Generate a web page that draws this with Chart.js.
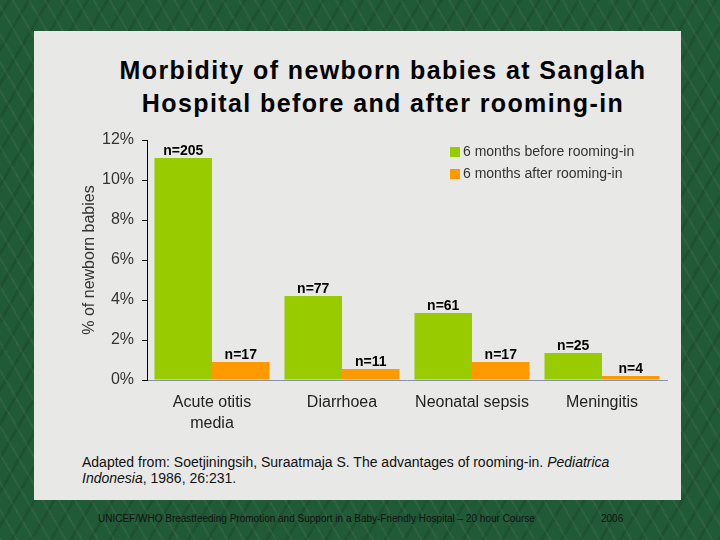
<!DOCTYPE html>
<html>
<head>
<meta charset="utf-8">
<script src="https://cdn.jsdelivr.net/npm/chart.js@4/dist/chart.umd.min.js"></script>
<style>
  html, body { margin:0; padding:0; }
  body { width:720px; height:540px; position:relative; overflow:hidden;
    background:#215a36;
    background-image:
      repeating-linear-gradient(60deg, rgba(255,255,255,0.05) 0 2px, rgba(0,0,0,0) 2px 14px),
      repeating-linear-gradient(-60deg, rgba(0,0,0,0.10) 0 3px, rgba(0,0,0,0) 3px 17px);
    font-family: "Liberation Sans", Arial, sans-serif; }
  #panel { position:absolute; left:34px; top:31px; width:647px; height:469px; background:#e8e8e6; }
  #title { position:absolute; left:0; width:766px; top:54px; text-align:center;
    font-weight:bold; font-size:25px; letter-spacing:1.4px; line-height:33px; color:#000; }
  #source { position:absolute; left:82px; top:454px; font-size:14px; line-height:16px; color:#111; }
  #footer { position:absolute; left:98px; top:513px; font-size:10px; color:#111; white-space:nowrap; }
  #year { position:absolute; left:601px; top:513px; font-size:10px; color:#111; }
  #c { position:absolute; left:0; top:0; }
</style>
</head>
<body>
<div id="panel"></div>
<div id="title">Morbidity of newborn babies at Sanglah<br>Hospital before and after rooming-in</div>
<div id="source">Adapted from: Soetjiningsih, Suraatmaja S. The advantages of rooming-in. <i>Pediatrica</i><br><i>Indonesia</i>, 1986, 26:231.</div>
<div id="footer">UNICEF/WHO Breastfeeding Promotion and Support in a Baby-Friendly Hospital – 20 hour Course</div>
<div id="year">2006</div>
<canvas id="c" width="720" height="540"></canvas>
<script>
const categories = [["Acute otitis","media"], "Diarrhoea", "Neonatal sepsis", "Meningitis"];
const seriesNames = ["6 months before rooming-in", "6 months after rooming-in"];
const beforeValues = [11.1, 4.2, 3.35, 1.35];
const afterValues = [0.9, 0.55, 0.9, 0.2];
const beforeCounts = [205, 77, 61, 25];
const afterCounts = [17, 11, 17, 4];
const yTicks = [0, 2, 4, 6, 8, 10, 12];
const yTitle = "% of newborn babies";

const countsByDataset = [beforeCounts, afterCounts];
const FONT = '"Liberation Sans", Arial, sans-serif';

const labelPlugin = {
  id: 'nLabels',
  afterDatasetsDraw(chart) {
    const ctx = chart.ctx;
    ctx.save();
    ctx.font = 'bold 14px ' + FONT;
    ctx.fillStyle = '#000';
    ctx.textAlign = 'center';
    ctx.textBaseline = 'alphabetic';
    chart.data.datasets.forEach((ds, di) => {
      const meta = chart.getDatasetMeta(di);
      meta.data.forEach((bar, i) => {
        ctx.fillText('n=' + countsByDataset[di][i], bar.x, bar.y - 3);
      });
    });
    ctx.restore();
  }
};

const legendPlugin = {
  id: 'customLegend',
  afterDraw(chart) {
    const ctx = chart.ctx;
    ctx.save();
    ctx.font = '14px ' + FONT;
    ctx.textBaseline = 'middle';
    ctx.textAlign = 'left';
    chart.data.datasets.forEach((ds, di) => {
      const y = 152 + di * 22;
      ctx.fillStyle = ds.backgroundColor;
      ctx.fillRect(450, y - 5, 10, 10);
      ctx.fillStyle = '#333';
      ctx.fillText(ds.label, 463, y);
    });
    ctx.restore();
  }
};

new Chart(document.getElementById('c'), {
  type: 'bar',
  data: {
    labels: categories,
    datasets: [
      { label: seriesNames[0], data: beforeValues, backgroundColor: '#99cc00', borderWidth: 0 },
      { label: seriesNames[1], data: afterValues, backgroundColor: '#ff9900', borderWidth: 0 }
    ]
  },
  options: {
    responsive: false,
    animation: false,
    devicePixelRatio: 1,
    layout: { padding: { left: 76, right: 53, top: 140, bottom: 100 } },
    datasets: { bar: { categoryPercentage: 0.885, barPercentage: 1.0 } },
    plugins: { legend: { display: false }, tooltip: { enabled: false }, title: { display: false } },
    scales: {
      x: {
        grid: { display: false, drawTicks: false },
        border: { display: true, color: '#8794a6', width: 1 },
        ticks: { color: '#222', font: { family: FONT, size: 16, lineHeight: 1.3 }, padding: 12, maxRotation: 0, autoSkip: false },
        afterFit(scale) { scale.height = 60; }
      },
      y: {
        min: 0, max: 12,
        afterBuildTicks(scale) { scale.ticks = yTicks.map(v => ({ value: v })); },
        grid: { drawOnChartArea: false, drawTicks: true, tickLength: 5, color: '#000', lineWidth: 1 },
        border: { display: true, color: '#000', width: 1 },
        ticks: { color: '#333', font: { family: FONT, size: 16 }, padding: 8, callback: v => v + '%' },
        title: { display: true, text: yTitle, color: '#333', font: { family: FONT, size: 16 }, padding: { top: 4, bottom: 4 } },
        afterFit(scale) { scale.width = 71; }
      }
    }
  },
  plugins: [labelPlugin, legendPlugin]
});
</script>
</body>
</html>
